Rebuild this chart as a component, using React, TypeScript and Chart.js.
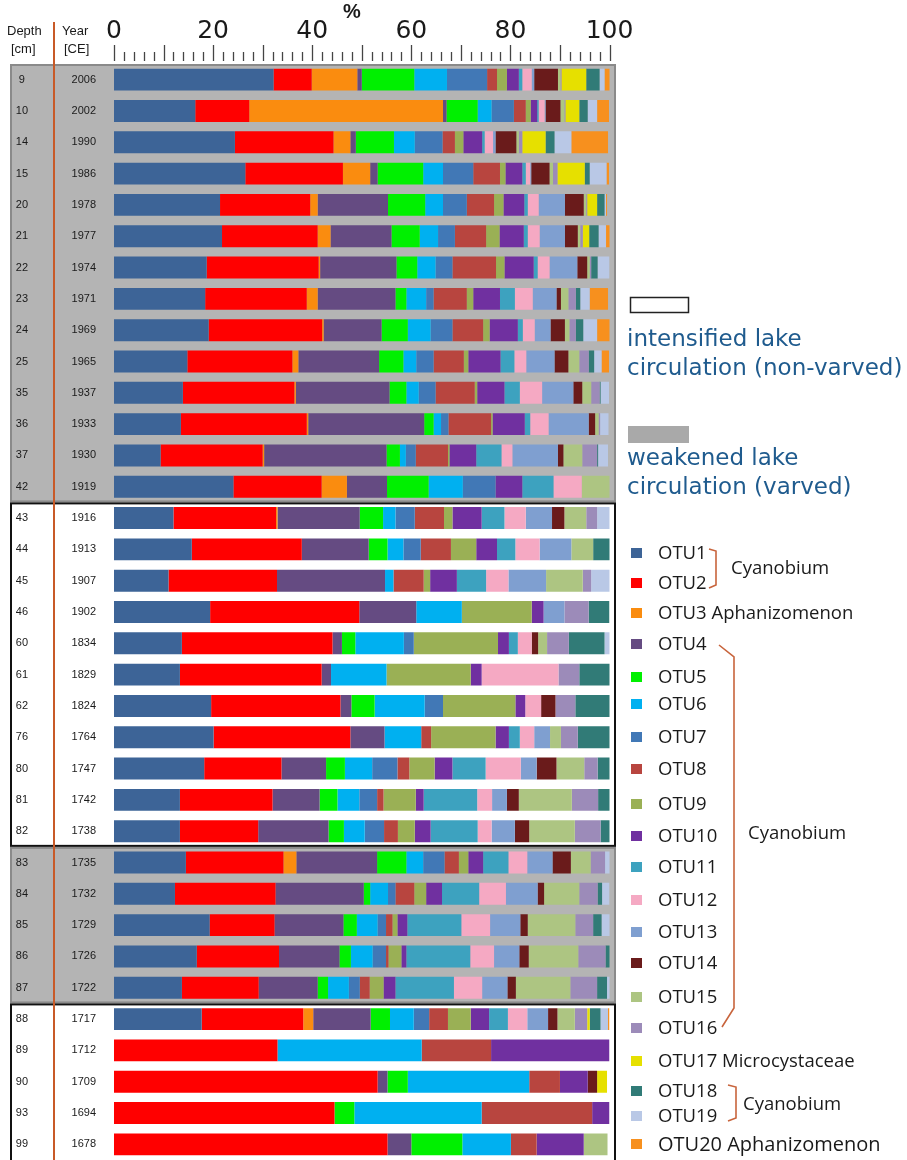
import React, { useEffect, useRef } from "react";
import { Chart, registerables } from "chart.js";

Chart.register(...registerables);

// Sediment samples: depth below lake floor and dated year
const DEPTHS = ["9", "10", "14", "15", "20", "21", "22", "23", "24", "25", "35", "36", "37", "42",
  "43", "44", "45", "46", "60", "61", "62", "76", "80", "81", "82",
  "83", "84", "85", "86", "87",
  "88", "89", "90", "93", "99"];
const YEARS = ["2006", "2002", "1990", "1986", "1978", "1977", "1974", "1971", "1969", "1965", "1937", "1933", "1930", "1919",
  "1916", "1913", "1907", "1902", "1834", "1829", "1824", "1764", "1747", "1742", "1738",
  "1735", "1732", "1729", "1726", "1722",
  "1717", "1712", "1709", "1694", "1678"];

// Relative abundance (%) of each OTU per sample, top to bottom
const OTU1 = [32.2, 16.4, 24.4, 26.5, 21.4, 21.8, 18.7, 18.4, 19.1, 14.8, 13.9, 13.5, 9.4, 24.1,
  12.0, 15.7, 11.0, 19.4, 13.7, 13.3, 19.6, 20.1, 18.2, 13.3, 13.3,
  14.5, 12.3, 19.3, 16.7, 13.7,
  17.7, 0, 0, 0, 0];
const OTU2 = [7.7, 10.9, 19.9, 19.7, 18.2, 19.3, 22.6, 20.5, 22.9, 21.2, 22.5, 25.4, 20.6, 17.8,
  20.7, 22.2, 21.9, 30.1, 30.4, 28.6, 26.1, 27.6, 15.6, 18.7, 15.8,
  19.7, 20.3, 13.1, 16.6, 15.5,
  20.5, 33.0, 53.2, 44.5, 55.2];
const OTU3 = [9.2, 39.1, 3.4, 5.5, 1.5, 2.6, 0.3, 2.2, 0.3, 1.2, 0.3, 0.3, 0.3, 5.1,
  0.3, 0, 0, 0, 0, 0, 0, 0, 0, 0, 0,
  2.6, 0, 0, 0, 0,
  2.0, 0, 0, 0, 0];
const OTU4 = [0.9, 0.7, 1.1, 1.5, 14.2, 12.3, 15.4, 15.7, 11.7, 16.3, 18.9, 23.4, 24.7, 8.1,
  16.6, 13.5, 21.8, 11.5, 1.9, 1.9, 2.2, 6.9, 9.0, 9.5, 14.2,
  16.3, 17.8, 13.9, 12.2, 11.9,
  11.6, 0, 2.0, 0, 4.8];
const OTU5 = [10.6, 6.3, 7.7, 9.2, 7.5, 5.7, 4.2, 2.2, 5.3, 4.9, 3.4, 1.9, 2.7, 8.4,
  4.7, 3.8, 0, 0, 2.7, 0, 4.7, 0, 3.8, 3.6, 3.1,
  5.9, 1.3, 2.7, 2.3, 2.1,
  3.9, 0, 4.1, 4.0, 10.3];
const OTU6 = [6.6, 2.8, 4.2, 4.0, 3.6, 3.7, 3.7, 4.0, 4.6, 2.6, 2.5, 1.5, 1.2, 6.9,
  2.5, 3.2, 1.7, 9.2, 9.8, 11.2, 10.1, 7.4, 5.5, 4.4, 4.2,
  3.4, 3.6, 4.2, 4.4, 4.2,
  4.8, 29.1, 24.5, 25.7, 9.8];
const OTU7 = [8.1, 4.5, 5.6, 6.1, 4.8, 3.4, 3.4, 1.5, 4.4, 3.5, 3.4, 1.5, 2.0, 6.6,
  3.9, 3.5, 0, 0, 2.0, 0, 3.7, 0, 5.1, 3.6, 3.9,
  4.3, 1.5, 1.7, 2.7, 2.2,
  3.1, 0, 0, 0, 0];
const OTU8 = [2.0, 2.4, 2.5, 5.4, 5.5, 6.3, 8.8, 6.7, 6.2, 6.1, 7.9, 8.6, 6.5, 0,
  5.9, 6.1, 6.1, 0, 0, 0, 0, 2.0, 2.4, 1.3, 2.8,
  2.9, 3.8, 1.3, 0.5, 2.0,
  3.8, 14.0, 6.2, 22.3, 5.2];
const OTU9 = [2.0, 1.0, 1.7, 1.1, 1.9, 2.7, 1.7, 1.3, 1.3, 0.9, 0.5, 0.3, 0.3, 0,
  1.7, 5.1, 1.3, 14.1, 17.0, 17.0, 14.6, 13.0, 5.1, 6.5, 3.4,
  1.9, 2.4, 1.0, 2.6, 2.8,
  4.6, 0, 0, 0, 0];
const OTU10 = [2.4, 1.3, 3.8, 3.4, 4.2, 4.9, 5.9, 5.4, 5.7, 6.5, 5.5, 6.5, 5.4, 5.4,
  5.9, 4.2, 5.4, 2.4, 2.2, 2.2, 2.0, 2.7, 3.6, 1.6, 3.2,
  3.0, 3.2, 2.0, 1.0, 2.4,
  3.7, 23.9, 5.6, 3.5, 9.5];
const OTU11 = [0.7, 0.3, 0.5, 0.7, 0.7, 0.8, 0.8, 3.0, 1.0, 2.8, 3.1, 1.1, 5.1, 6.3,
  4.6, 3.7, 5.9, 0, 1.8, 0, 0, 2.2, 6.7, 10.8, 9.5,
  5.1, 7.5, 10.9, 12.9, 11.8,
  3.8, 0, 0, 0, 0];
const OTU12 = [1.9, 1.2, 1.7, 0.9, 2.2, 2.4, 2.4, 3.6, 2.4, 2.4, 4.5, 3.7, 2.2, 5.7,
  4.3, 4.9, 4.5, 0, 2.8, 15.5, 3.2, 2.9, 7.1, 3.0, 2.8,
  3.8, 5.4, 5.8, 4.8, 5.7,
  3.9, 0, 0, 0, 0];
const OTU13 = [0.5, 0.2, 0.5, 0.2, 5.3, 5.1, 5.6, 4.8, 3.2, 5.7, 6.3, 8.1, 9.2, 0,
  5.3, 6.4, 7.6, 4.2, 0, 0, 0, 3.2, 3.2, 3.0, 4.7,
  5.1, 6.4, 6.1, 5.1, 5.1,
  4.2, 0, 0, 0, 0];
const OTU14 = [4.8, 3.0, 4.2, 3.7, 3.8, 2.6, 2.0, 0.9, 2.9, 2.8, 1.8, 1.3, 1.1, 0,
  2.5, 0, 0, 0, 1.3, 0, 2.9, 0, 4.0, 2.4, 2.9,
  3.7, 1.3, 1.5, 1.9, 1.7,
  1.9, 0, 1.9, 0, 0];
const OTU15 = [0.5, 0.8, 0.5, 0.7, 0.5, 0.5, 0.5, 1.5, 0.9, 2.2, 1.8, 0.7, 3.8, 5.7,
  4.4, 4.4, 7.4, 0, 1.8, 0, 0, 2.2, 5.6, 10.7, 9.2,
  4.0, 7.1, 9.6, 10.0, 11.0,
  3.5, 0, 0, 0, 4.8];
const OTU16 = [0.2, 0.2, 0.7, 0.9, 0.2, 0.5, 0.3, 1.5, 1.3, 1.9, 1.7, 0.3, 3.0, 0,
  2.2, 0, 1.7, 4.9, 4.4, 4.2, 4.0, 3.4, 2.7, 5.3, 5.2,
  2.9, 3.7, 3.6, 5.5, 5.4,
  2.5, 0, 0, 0, 0];
const OTU17 = [5.0, 2.8, 4.7, 5.5, 2.0, 1.3, 0, 0, 0, 0, 0, 0, 0, 0,
  0, 0, 0, 0, 0, 0, 0, 0, 0, 0, 0,
  0, 0, 0, 0, 0,
  0.5, 0, 2.0, 0, 0];
const OTU18 = [2.7, 1.7, 1.8, 1.0, 1.5, 1.9, 1.3, 0.9, 1.5, 1.1, 0.2, 0, 0.2, 0,
  0, 3.4, 0, 4.2, 7.2, 6.3, 7.1, 6.7, 2.8, 2.4, 1.9,
  0, 0.9, 1.7, 1.0, 2.0,
  2.2, 0, 0, 0, 0];
const OTU19 = [1.0, 1.9, 3.4, 3.4, 0.3, 1.5, 2.4, 1.9, 2.8, 1.5, 1.7, 1.7, 2.0, 0,
  2.6, 0, 3.9, 0, 1.2, 0, 0, 0, 0, 0, 0,
  1.1, 1.5, 2.0, 0, 0.9,
  1.5, 0, 0, 0, 0];
const OTU20 = [1.1, 2.4, 7.4, 0.5, 0.2, 0.8, 0, 3.7, 2.6, 1.5, 0, 0, 0, 0,
  0, 0, 0, 0, 0, 0, 0, 0, 0, 0, 0,
  0, 0, 0, 0, 0,
  0.3, 0, 0, 0, 0];

const SERIES = [OTU1, OTU2, OTU3, OTU4, OTU5, OTU6, OTU7, OTU8, OTU9, OTU10,
  OTU11, OTU12, OTU13, OTU14, OTU15, OTU16, OTU17, OTU18, OTU19, OTU20];
const OTU_NAMES = SERIES.map((_, i) => `OTU${i + 1}`);
const OTU_COLORS = ["#3d6497", "#ff0000", "#fa8c0f", "#654b82", "#00f000", "#00b0f0", "#4178b6",
  "#b8453f", "#9ab055", "#7030a0", "#3da2bf", "#f5a9c3", "#7f9fd0", "#6a1b1b", "#adc582",
  "#9c8bb9", "#e6e000", "#317b77", "#b9c8e6", "#f7901e"];
const OTU_TAXA: Record<string, string> = {
  OTU3: "Aphanizomenon",
  OTU17: "Microcystaceae",
  OTU20: "Aphanizomenon",
};
// Legend braces grouping OTUs assigned to Cyanobium (first/last OTU index)
const CYANOBIUM_GROUPS = [[0, 1], [3, 15], [17, 18]];

// Sample blocks by lake circulation state (row index ranges)
const CIRCULATION_BLOCKS = [
  { from: 0, to: 13, varved: true },
  { from: 14, to: 24, varved: false },
  { from: 25, to: 29, varved: true },
  { from: 30, to: 34, varved: false },
];

const X_TICKS = [0, 20, 40, 60, 80, 100];

// Layout
const W = 907;
const H = 1160;
const PLOT_LEFT = 114;
const PLOT_RIGHT = 609.5;
const AXIS_HEIGHT = 64;
const BOX_LEFT = 10;
const BOX_RIGHT = 616;
const LEGEND_Y = [553, 583, 613, 644, 677, 704, 737, 769, 804, 836, 867, 900, 932, 963, 997, 1028, 1061, 1091, 1116, 1144];

const TEXT = "#1a1a1a";
const NOTE_BLUE = "#1f5b8e";
const BRACE = "#c8643c";
const GRAY_FILL = "#b4b4b4";
const SANS = "'Liberation Sans', Arial, sans-serif";
const LEGEND_FAMILY = "'Open Sans', sans-serif";

const noVerticalOverflow = (scale: any, width: number) => {
  scale.width = width;
  scale.paddingTop = 0;
  scale.paddingBottom = 0;
};

const decorations = {
  id: "decorations",
  beforeDraw(chart: any) {
    const { ctx } = chart;
    const y = chart.scales.y;
    const step = y.getPixelForValue(1) - y.getPixelForValue(0);
    ctx.save();
    for (const b of CIRCULATION_BLOCKS) {
      if (!b.varved) continue;
      const top = y.getPixelForValue(b.from) - step / 2;
      const bottom = y.getPixelForValue(b.to) + step / 2;
      ctx.fillStyle = GRAY_FILL;
      ctx.fillRect(BOX_LEFT, top, BOX_RIGHT - BOX_LEFT, bottom - top);
      ctx.strokeStyle = "#8a8a8a";
      ctx.lineWidth = 2;
      ctx.strokeRect(BOX_LEFT + 1, top + 1, BOX_RIGHT - BOX_LEFT - 2, bottom - top - 2);
    }
    ctx.restore();
  },
  afterDraw(chart: any) {
    const { ctx } = chart;
    const x = chart.scales.x;
    const y = chart.scales.y;
    const step = y.getPixelForValue(1) - y.getPixelForValue(0);
    const last = DEPTHS.length - 1;
    ctx.save();

    // outlines of the non-varved blocks
    for (const b of CIRCULATION_BLOCKS) {
      if (b.varved) continue;
      const top = y.getPixelForValue(b.from) - step / 2;
      const bottom = b.to === last ? H + 10 : y.getPixelForValue(b.to) + step / 2;
      ctx.strokeStyle = "#111";
      ctx.lineWidth = 2;
      ctx.strokeRect(BOX_LEFT + 1, top + 1, BOX_RIGHT - BOX_LEFT - 2, bottom - top - 2);
    }

    // divider between depth and year columns
    ctx.strokeStyle = "#c85a28";
    ctx.lineWidth = 2;
    ctx.beginPath();
    ctx.moveTo(54, 22);
    ctx.lineTo(54, H);
    ctx.stroke();

    // ruler ticks of the percentage axis
    ctx.strokeStyle = "#444";
    ctx.lineWidth = 1.3;
    for (let v = 0; v <= 100; v += 2) {
      const px = Math.round(x.getPixelForValue(v)) + 0.5;
      const major = v % 10 === 0;
      ctx.beginPath();
      ctx.moveTo(px, major ? 45 : 52);
      ctx.lineTo(px, 61);
      ctx.stroke();
    }

    // column headers
    ctx.fillStyle = TEXT;
    ctx.textBaseline = "middle";
    ctx.textAlign = "left";
    ctx.font = `13px ${SANS}`;
    ctx.fillText("Depth", 7, 31);
    ctx.fillText("[cm]", 11, 49);
    ctx.fillText("Year", 62, 31);
    ctx.fillText("[CE]", 64, 49);
    ctx.textAlign = "center";
    ctx.font = `bold 20px ${SANS}`;
    ctx.fillText("%", 352, 12);

    // circulation key
    ctx.textAlign = "left";
    ctx.textBaseline = "alphabetic";
    ctx.strokeStyle = "#222";
    ctx.lineWidth = 1.5;
    ctx.strokeRect(630.5, 297.5, 58, 15);
    ctx.fillStyle = "#a9a9a9";
    ctx.fillRect(628, 426, 61, 17);
    ctx.fillStyle = NOTE_BLUE;
    ctx.font = "23px 'DejaVu Sans', sans-serif";
    ctx.fillText("intensified lake", 627, 346);
    ctx.fillText("circulation (non-varved)", 627, 375);
    ctx.fillText("weakened lake", 627, 465);
    ctx.fillText("circulation (varved)", 627, 494);

    // OTU key
    ctx.textBaseline = "middle";
    chart.data.datasets.forEach((ds: any, i: number) => {
      const ly = LEGEND_Y[i];
      ctx.fillStyle = ds.backgroundColor;
      ctx.fillRect(631, ly - 5, 11, 10);
      ctx.fillStyle = TEXT;
      ctx.font = `${i === SERIES.length - 1 ? 20 : 18.5}px ${LEGEND_FAMILY}`;
      const taxon = OTU_TAXA[ds.label];
      ctx.fillText(taxon ? `${ds.label} ${taxon}` : ds.label, 658, ly + 1);
    });

    // Cyanobium braces
    ctx.strokeStyle = BRACE;
    ctx.lineWidth = 1.6;
    const [g1, g2, g3] = CYANOBIUM_GROUPS;
    const a1 = LEGEND_Y[g1[0]], b1 = LEGEND_Y[g1[1]];
    ctx.beginPath();
    ctx.moveTo(709, a1 - 4);
    ctx.lineTo(716, a1 - 2);
    ctx.lineTo(716, b1 + 2);
    ctx.lineTo(709, b1 + 5);
    ctx.stroke();
    const a2 = LEGEND_Y[g2[0]], b2 = LEGEND_Y[g2[1]];
    ctx.beginPath();
    ctx.moveTo(719, a2 + 1);
    ctx.lineTo(734, a2 + 13);
    ctx.lineTo(734, b2 - 20);
    ctx.lineTo(722, b2 - 1);
    ctx.stroke();
    const a3 = LEGEND_Y[g3[0]], b3 = LEGEND_Y[g3[1]];
    ctx.beginPath();
    ctx.moveTo(728, a3 - 6);
    ctx.lineTo(736, a3 - 4);
    ctx.lineTo(736, b3 + 2);
    ctx.lineTo(728, b3 + 5);
    ctx.stroke();

    ctx.fillStyle = TEXT;
    ctx.font = `18.5px ${LEGEND_FAMILY}`;
    ctx.fillText("Cyanobium", 731, (a1 + b1) / 2 + 1);
    ctx.fillText("Cyanobium", 748, 834);
    ctx.fillText("Cyanobium", 743, (a3 + b3) / 2 + 1);

    ctx.restore();
  },
};

export default function App() {
  const canvasRef = useRef<HTMLCanvasElement | null>(null);

  useEffect(() => {
    document.body.style.margin = "0";
    document.body.style.overflow = "hidden";
    const canvas = canvasRef.current;
    if (!canvas) return;

    const chart = new Chart(canvas, {
      type: "bar",
      data: {
        labels: DEPTHS,
        datasets: SERIES.map((values, i) => ({
          label: OTU_NAMES[i],
          data: values,
          backgroundColor: OTU_COLORS[i],
          borderWidth: 0,
          barPercentage: 0.7,
          categoryPercentage: 1,
        })),
      },
      options: {
        indexAxis: "y",
        responsive: false,
        maintainAspectRatio: false,
        animation: false,
        devicePixelRatio: 1,
        layout: { padding: { left: 0, right: W - PLOT_RIGHT, top: 0, bottom: 0 } },
        plugins: {
          legend: { display: false },
          tooltip: { enabled: false },
          title: { display: false },
        },
        scales: {
          x: {
            position: "top",
            stacked: true,
            min: 0,
            max: 100,
            afterBuildTicks: (scale: any) => {
              scale.ticks = X_TICKS.map((v) => ({ value: v }));
            },
            ticks: {
              font: { size: 25, family: "'DejaVu Sans', sans-serif" },
              color: TEXT,
              padding: 18,
              maxRotation: 0,
              autoSkip: false,
            },
            grid: { display: false, drawTicks: false },
            border: { display: false },
            afterFit: (scale: any) => {
              scale.height = AXIS_HEIGHT;
            },
          },
          y: {
            type: "category",
            position: "left",
            stacked: true,
            offset: true,
            weight: 1,
            ticks: {
              font: { size: 11, family: SANS },
              color: TEXT,
              padding: 26,
              crossAlign: "center",
              autoSkip: false,
            },
            grid: { display: false, drawTicks: false },
            border: { display: false },
            afterFit: (scale: any) => noVerticalOverflow(scale, 54),
          },
          year: {
            type: "category",
            labels: YEARS,
            position: "left",
            offset: true,
            weight: 0,
            ticks: {
              font: { size: 11, family: SANS },
              color: TEXT,
              padding: 18,
              crossAlign: "center",
              autoSkip: false,
            },
            grid: { display: false, drawTicks: false },
            border: { display: false },
            afterFit: (scale: any) => noVerticalOverflow(scale, PLOT_LEFT - 54),
          },
        },
      },
      plugins: [decorations],
    } as any);

    return () => chart.destroy();
  }, []);

  return (
    <div style={{ width: W, height: H, position: "relative" }}>
      <canvas ref={canvasRef} width={W} height={H} style={{ display: "block" }} />
    </div>
  );
}
